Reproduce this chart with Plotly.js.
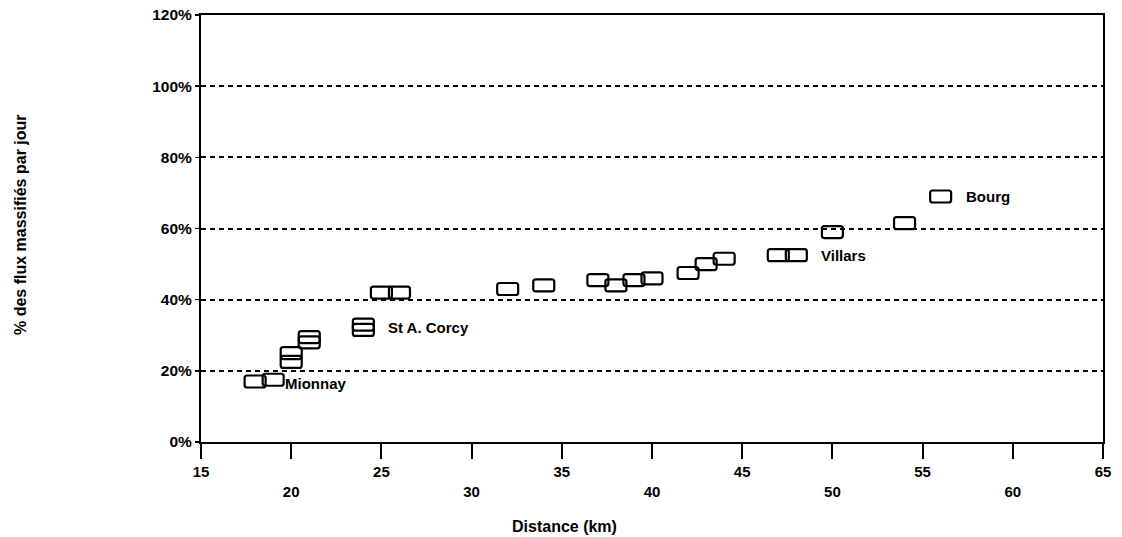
<!DOCTYPE html>
<html>
<head>
<meta charset="utf-8">
<script src="https://cdn.plot.ly/plotly-3.0.1.min.js"></script>
<style>html,body{margin:0;padding:0;background:#fff;}#chart{width:1122px;height:537px;}</style>
</head>
<body>
<div id="chart"></div>
<script>
// Data
const distances = [18, 19, 20, 20, 21, 21, 24, 24, 25, 26, 32, 34, 37, 38, 39, 40, 42, 43, 44, 47, 48, 50, 54, 56];
const shares    = [17, 17.5, 25, 22.5, 29.5, 28, 33, 31.5, 42, 42, 43, 44, 45.5, 44, 45.5, 46, 47.5, 50, 51.5, 52.5, 52.5, 59, 61.5, 69];

const labelNames = ["Mionnay", "St A. Corcy", "Villars", "Bourg"];
const labelX = [19, 24, 48, 56];
const labelY = [16.5, 32.2, 52.5, 69];

const xTickValues = [15, 20, 25, 30, 35, 40, 45, 50, 55, 60, 65];
const yTickValues = [0, 20, 40, 60, 80, 100, 120];
const yTickLabels = ["0%", "20%", "40%", "60%", "80%", "100%", "120%"];

const FONT = "Liberation Sans, Arial, Helvetica, sans-serif";

// x tick labels alternate between two rows
const xTickText = xTickValues.map((v, i) => (i % 2 === 0 ? String(v) : "<br>" + v));

// rounded-rectangle marker drawn as a pixel-sized shape anchored at each data point
const rectPath = "M -8,6 L 8,6 Q 10.5,6 10.5,3.5 L 10.5,-3.5 Q 10.5,-6 8,-6 L -8,-6 Q -10.5,-6 -10.5,-3.5 L -10.5,3.5 Q -10.5,6 -8,6 Z";
const shapes = distances.map((d, i) => ({
  type: "path",
  xref: "x", yref: "y",
  xsizemode: "pixel", ysizemode: "pixel",
  xanchor: d, yanchor: shares[i],
  path: rectPath,
  line: {color: "#000", width: 2.2},
  fillcolor: "rgba(0,0,0,0)",
  layer: "above"
}));

const labelShift = {"Mionnay": 10};
const annotations = labelNames.map((t, i) => ({
  x: labelX[i], y: labelY[i], xref: "x", yref: "y",
  text: t, showarrow: false, xanchor: "left", yanchor: "middle",
  xshift: labelShift[t] !== undefined ? labelShift[t] : 23,
  font: {family: FONT, size: 15, color: "#000", weight: "bold"}
}));

annotations.push({
  xref: "paper", yref: "paper", x: (564 - 201) / 902, y: -(526 - 442) / 427,
  text: "Distance (km)", showarrow: false, xanchor: "center", yanchor: "middle",
  font: {family: FONT, size: 16, color: "#000", weight: "bold"}
});
annotations.push({
  xref: "paper", yref: "paper", x: -(201 - 20) / 902, y: (442 - 225) / 427,
  text: "% des flux massifiés par jour", showarrow: false, textangle: -90,
  xanchor: "center", yanchor: "middle",
  font: {family: FONT, size: 16, color: "#000", weight: "bold"}
});

const trace = {
  type: "scatter", mode: "markers",
  x: distances, y: shares,
  marker: {size: 10, opacity: 0},
  hovertemplate: "%{x} km: %{y}%<extra></extra>",
  showlegend: false
};

const layout = {
  width: 1122, height: 537,
  margin: {l: 201, r: 19, t: 15, b: 95},
  paper_bgcolor: "#fff", plot_bgcolor: "#fff",
  font: {family: FONT, size: 15, color: "#000"},
  xaxis: {
    range: [15, 65], tickmode: "array", tickvals: xTickValues, ticktext: xTickText,
    ticks: "outside", ticklen: 15, tickwidth: 2, tickcolor: "#000",
    showline: true, linewidth: 2, linecolor: "#000", mirror: true,
    showgrid: false, zeroline: false,
    tickfont: {family: FONT, size: 15, color: "#000", weight: "bold"}
  },
  yaxis: {
    range: [0, 120], tickmode: "array", tickvals: yTickValues, ticktext: yTickLabels,
    ticks: "outside", ticklen: 4, tickwidth: 1.5, tickcolor: "#000",
    showline: true, linewidth: 2, linecolor: "#000", mirror: true,
    showgrid: true, gridcolor: "#000", gridwidth: 2, griddash: "5px,4px",
    zeroline: false,
    tickfont: {family: FONT, size: 15.5, color: "#000", weight: "bold"}
  },
  shapes: shapes,
  annotations: annotations
};

Plotly.newPlot("chart", [trace], layout, {displayModeBar: false, staticPlot: true});
</script>
</body>
</html>
